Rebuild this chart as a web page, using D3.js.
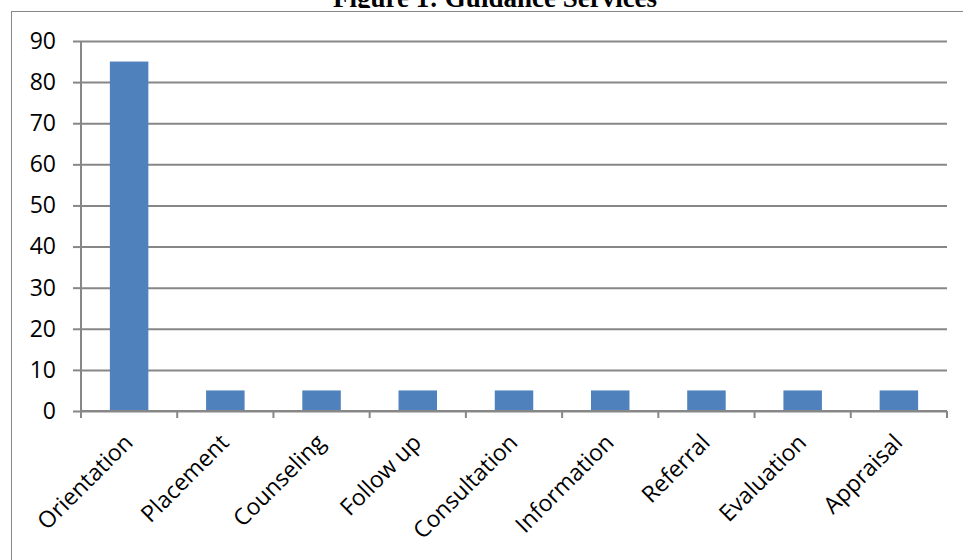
<!DOCTYPE html>
<html>
<head>
<meta charset="utf-8">
<script src="https://cdn.jsdelivr.net/npm/d3@7"></script>
<style>
  body { margin: 0; background: #fff; }
  svg { display: block; }
</style>
</head>
<body>
<div id="chart"></div>
<script>
const categories = ["Orientation", "Placement", "Counseling", "Follow up", "Consultation",
  "Information", "Referral", "Evaluation", "Appraisal"];
const values = [85, 5, 5, 5, 5, 5, 5, 5, 5];
const yTicks = [0, 10, 20, 30, 40, 50, 60, 70, 80, 90];
const title = "Figure 1: Guidance Services";

const WIDTH = 963;
const HEIGHT = 560;
const PLOT = { LEFT: 81, RIGHT: 947, TOP: 41, BOTTOM: 411 };
const GRID = "#878787";

const svg = d3.select("#chart")
  .append("svg")
  .attr("width", WIDTH)
  .attr("height", HEIGHT);

// title sits above the chart box and is partly covered by it
svg.append("text")
  .attr("x", 495)
  .attr("y", 7)
  .attr("text-anchor", "middle")
  .style("font-family", "'Liberation Serif', 'Times New Roman', serif")
  .style("font-weight", "bold")
  .style("font-size", "27px")
  .style("fill", "#000")
  .text(title);

// chart area (white, runs off the right and bottom of the page)
svg.append("rect")
  .attr("x", 0)
  .attr("y", 8)
  .attr("width", WIDTH)
  .attr("height", HEIGHT)
  .style("fill", "#fff");

svg.append("rect")
  .attr("x", 11.5)
  .attr("y", 11.5)
  .attr("width", WIDTH + 20)
  .attr("height", HEIGHT + 20)
  .style("fill", "none")
  .style("stroke", GRID)
  .style("stroke-width", "1px");

const x = d3.scaleBand()
  .domain(categories)
  .range([PLOT.LEFT, PLOT.RIGHT])
  .padding(0);

const y = d3.scaleLinear()
  .domain([0, 90])
  .range([PLOT.BOTTOM, PLOT.TOP]);

// gridlines + y axis
const yAxis = svg.append("g")
  .attr("transform", `translate(${PLOT.LEFT}, 0)`)
  .call(d3.axisLeft(y).tickValues(yTicks).tickSize(8).tickPadding(17))
  .call((g) => g.select(".domain").remove());

yAxis.selectAll(".tick line")
  .style("stroke", GRID)
  .style("stroke-width", "2px");

yAxis.selectAll(".tick")
  .append("line")
  .attr("x1", 0)
  .attr("x2", PLOT.RIGHT - PLOT.LEFT)
  .style("stroke", GRID)
  .style("stroke-width", "2px");

yAxis.selectAll("text")
  .style("font-family", "'Open Sans', sans-serif")
  .style("font-size", "23px")
  .style("fill", "#000");

svg.append("line")
  .attr("x1", PLOT.LEFT)
  .attr("x2", PLOT.LEFT)
  .attr("y1", PLOT.TOP)
  .attr("y2", PLOT.BOTTOM + 7)
  .style("stroke", GRID)
  .style("stroke-width", "2px");

// bars
const barW = x.bandwidth() * 0.4;
svg.selectAll("rect.bar")
  .data(values)
  .enter()
  .append("rect")
  .attr("class", "bar")
  .attr("x", (d, i) => x(categories[i]) + (x.bandwidth() - barW) / 2)
  .attr("y", (d) => y(d))
  .attr("width", barW)
  .attr("height", (d) => y(0) - y(d))
  .style("fill", "#4f81bd");

// x axis baseline and boundary ticks
svg.append("line")
  .attr("x1", PLOT.LEFT)
  .attr("x2", PLOT.RIGHT)
  .attr("y1", y(0))
  .attr("y2", y(0))
  .style("stroke", GRID)
  .style("stroke-width", "2px");

const bounds = categories.map((c) => x(c)).concat([PLOT.RIGHT]);
svg.selectAll("line.xtick")
  .data(bounds)
  .enter()
  .append("line")
  .attr("class", "xtick")
  .attr("x1", (d) => d)
  .attr("x2", (d) => d)
  .attr("y1", y(0))
  .attr("y2", y(0) + 7)
  .style("stroke", GRID)
  .style("stroke-width", "2px");

// rotated category labels
svg.selectAll("text.xlabel")
  .data(categories)
  .enter()
  .append("text")
  .attr("class", "xlabel")
  .attr("text-anchor", "end")
  .attr("transform", (d) =>
    `translate(${x(d) + x.bandwidth() / 2 + 5}, ${y(0) + 33}) rotate(-45)`)
  .style("font-family", "'Open Sans', sans-serif")
  .style("font-size", "23px")
  .style("fill", "#000")
  .text((d) => d);
</script>
</body>
</html>
